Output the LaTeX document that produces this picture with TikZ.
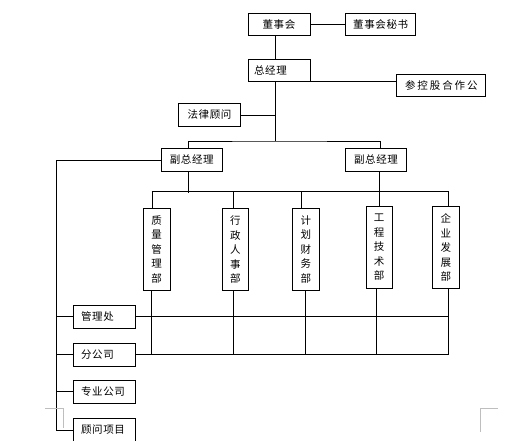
\documentclass[tikz,border=0pt]{standalone}
\usepackage{fontspec}
\usepackage{tikz}
\usetikzlibrary{positioning, calc}
\newfontfamily\cjk[LetterSpace=6]{Noto Sans CJK SC}
\newfontfamily\cjkwide[LetterSpace=18]{Noto Sans CJK SC}
\definecolor{markgray}{RGB}{190, 190, 190}

\begin{document}
\begin{tikzpicture}[x=1pt, y=-1pt, line width=0.9pt,
    orgbox/.style={draw, inner sep=0pt, font=\cjk\fontsize{10.5}{12}\selectfont},
    deptbox/.style={orgbox, minimum width=26.5pt, minimum height=82pt, align=center,
                    font=\cjk\fontsize{10.5}{14.5}\selectfont},
    sidebox/.style={orgbox, minimum width=62.4pt, minimum height=23pt, text width=47pt, align=left}]
    \useasboundingbox (0,0) rectangle (521,440);

    % Top management boxes
    \node[orgbox, minimum width=62pt, minimum height=22.5pt] (board) at (279,24.5) {董事会};
    \node[orgbox, minimum width=70pt, minimum height=22.5pt] (secretary) at (380.7,24.5) {董事会秘书};
    \node[orgbox, minimum width=62pt, minimum height=22pt, text width=50pt, align=left] (gm) at (279,70) {总经理};
    \node[orgbox, minimum width=89pt, minimum height=22.7pt, font=\cjkwide\fontsize{10.5}{12}\selectfont] (partner) at (441.3,85.3) {参控股合作公};
    \node[orgbox, minimum width=62.4pt, minimum height=23.4pt] (legal) at (209.5,115) {法律顾问};
    \node[orgbox, minimum width=61.7pt, minimum height=23.4pt] (vgmA) at (191.8,160) {副总经理};
    \node[orgbox, minimum width=61.4pt, minimum height=23.4pt] (vgmB) at (376,160) {副总经理};

    % Departments (vertical text)
    \node[deptbox] (quality) at (156.7,249.5) {质\\量\\管\\理\\部};
    \node[deptbox] (admin)   at (235.3,249.5) {行\\政\\人\\事\\部};
    \node[deptbox] (finance) at (305.8,249.5) {计\\划\\财\\务\\部};
    \node[deptbox] (eng)     at (379.2,247.2) {工\\程\\技\\术\\部};
    \node[deptbox] (devel)   at (445.8,247.5) {企\\业\\发\\展\\部};

    % Units on the left
    \node[sidebox] (office)  at (104.5,316.7) {管理处};
    \node[sidebox] (branch)  at (104.5,354.5) {分公司};
    \node[sidebox] (special) at (104.5,391.7) {专业公司};
    \node[sidebox] (consult) at (104.5,430)   {顾问项目};

    % Junction points
    \coordinate (trunk) at (275,141);
    \coordinate (deptbus) at (151.7,191.3);

    % Top links
    \draw (board.east) -- (secretary.west);
    \draw (board.south -| trunk) -- (gm.north -| trunk);
    \draw (gm.south east) -- (gm.south east -| partner.west);
    \draw (gm.south -| trunk) -- (trunk);
    \draw (legal.east) -- (legal.east -| trunk);
    \draw (188,0 |- vgmA.north) |- (trunk) -| (380.7,0 |- vgmB.north);

    % Department bus
    \draw (deptbus) -- (448.3,191.3);
    \draw (188,0 |- vgmA.south) -- (188,193.3);
    \draw (eng.north |- vgmB.south) -- (eng.north);
    \foreach \d/\xa in {quality/152.3, admin/233.3, finance/301.7, devel/448.3} {
        \draw (\xa,191.3) -- (\xa,0 |- \d.north);
    }

    % Lower grid
    \draw (office.east) -- (448.3,0 |- office.east);
    \draw (branch.east) -- (448.3,0 |- branch.east);
    \foreach \d/\xb in {quality/151.7, admin/233.3, finance/305.7, eng/376.7, devel/448.3} {
        \draw (\xb,0 |- \d.south) -- (\xb,0 |- branch.east);
    }

    % Left spine
    \draw (vgmA.west) -| (56.5,0 |- consult.west) -- (consult.west);
    \foreach \u in {office, branch, special} {
        \draw (\u.west) -- (56.5,0 |- \u.west);
    }

    % Page corner marks
    \draw[markgray, line width=0.8pt] (45,408.3) -- (63.3,408.3) -- (63.3,428);
    \draw[markgray, line width=0.8pt] (498,408.3) -- (480.7,408.3) -- (480.7,432);
\end{tikzpicture}
\end{document}
